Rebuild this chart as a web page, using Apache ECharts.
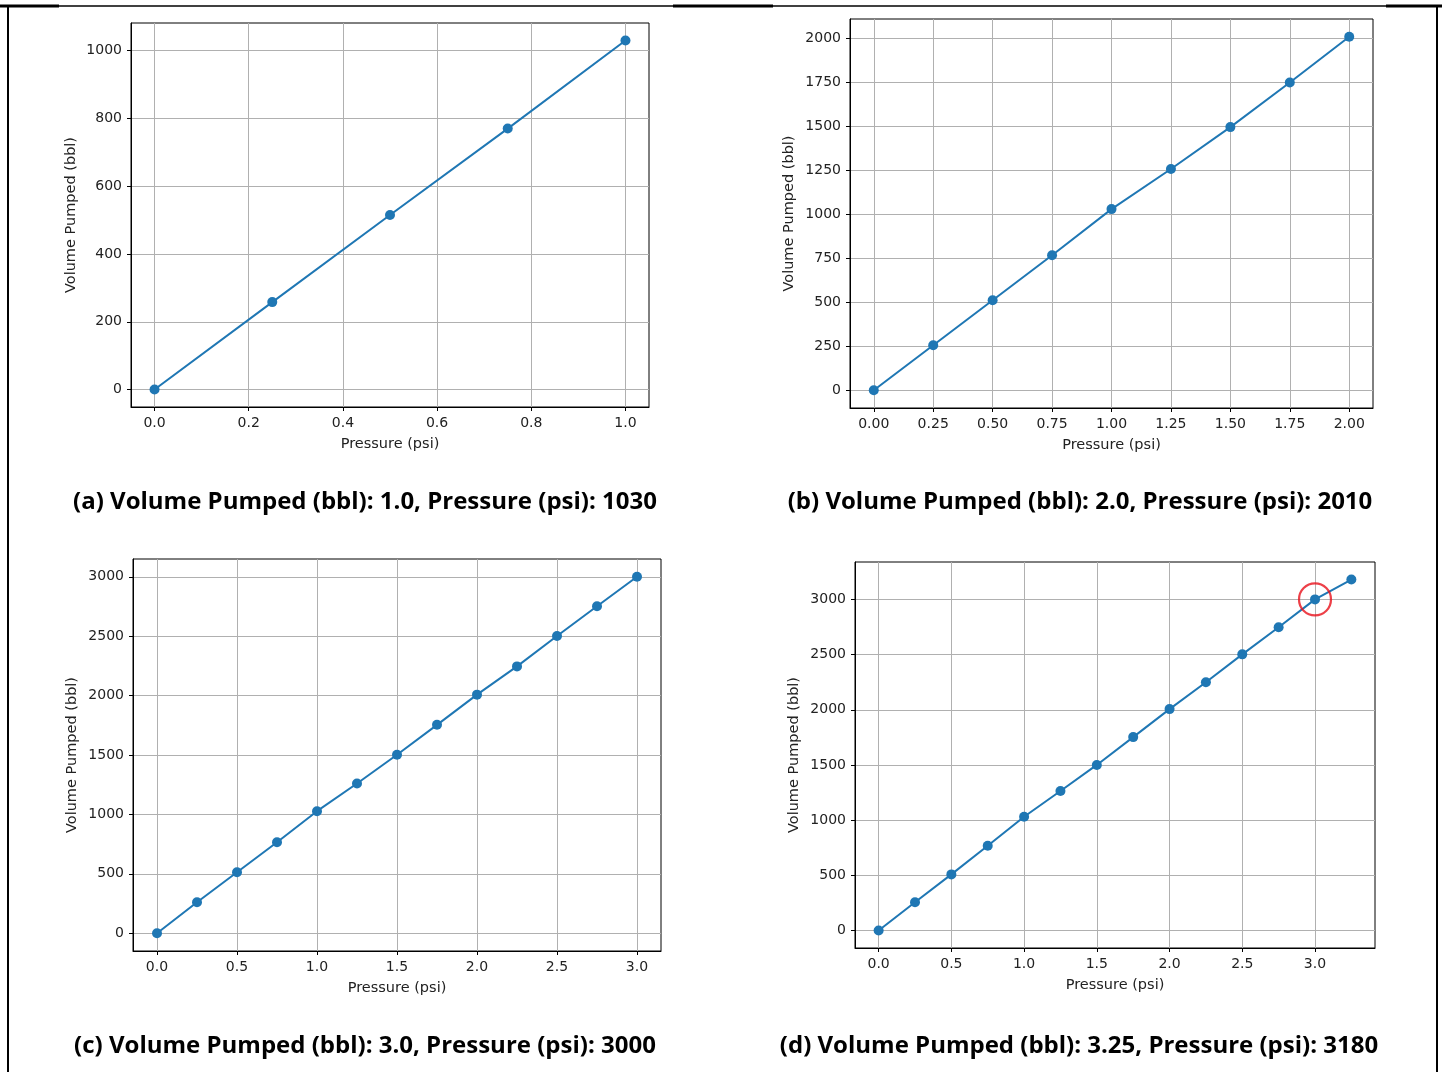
<!DOCTYPE html>
<html>
<head>
<meta charset="utf-8">
<script src="https://cdn.jsdelivr.net/npm/echarts@6/dist/echarts.min.js"></script>
<style>
html,body{margin:0;padding:0;background:#fff;}
#chart{width:1442px;height:1072px;}
</style>
</head>
<body>
<div id="chart"></div>
<script>
// ---- data ----
const pressureA = [0, 0.25, 0.5, 0.75, 1.0];
const volumeA = [0, 258, 515, 770, 1030];
const pressureB = [0, 0.25, 0.5, 0.75, 1.0, 1.25, 1.5, 1.75, 2.0];
const volumeB = [0, 256, 512, 768, 1030, 1258, 1496, 1750, 2010];
const pressureC = [0, 0.25, 0.5, 0.75, 1.0, 1.25, 1.5, 1.75, 2.0, 2.25, 2.5, 2.75, 3.0];
const volumeC = [0, 260, 513, 766, 1027, 1260, 1502, 1754, 2008, 2246, 2502, 2752, 3000];
const pressureD = [0, 0.25, 0.5, 0.75, 1.0, 1.25, 1.5, 1.75, 2.0, 2.25, 2.5, 2.75, 3.0, 3.25];
const volumeD = [0, 255, 508, 768, 1030, 1264, 1500, 1752, 2006, 2249, 2502, 2748, 3000, 3180];
const highlightD = [[3.0, 3000]];

const xTicksA = [0, 0.2, 0.4, 0.6, 0.8, 1.0];
const xTicksB = [0, 0.25, 0.5, 0.75, 1.0, 1.25, 1.5, 1.75, 2.0];
const xTicksC = [0, 0.5, 1.0, 1.5, 2.0, 2.5, 3.0];
const xTicksD = [0, 0.5, 1.0, 1.5, 2.0, 2.5, 3.0];
const yTicksA = [0, 200, 400, 600, 800, 1000];
const yTicksB = [0, 250, 500, 750, 1000, 1250, 1500, 1750, 2000];
const yTicksC = [0, 500, 1000, 1500, 2000, 2500, 3000];
const yTicksD = [0, 500, 1000, 1500, 2000, 2500, 3000];

const captions = [
  '(a) Volume Pumped (bbl): 1.0, Pressure (psi): 1030',
  '(b) Volume Pumped (bbl): 2.0, Pressure (psi): 2010',
  '(c) Volume Pumped (bbl): 3.0, Pressure (psi): 3000',
  '(d) Volume Pumped (bbl): 3.25, Pressure (psi): 3180'
];
const xName = 'Pressure (psi)';
const yName = 'Volume Pumped (bbl)';

// ---- layout ----
const panels = [
  {xs: pressureA, ys: volumeA, xt: xTicksA, yt: yTicksA, dec: 1, grid: {left: 131, top: 23, width: 518, height: 384}, capX: 365, capY: 502, yGap: 52, xGap: 30},
  {xs: pressureB, ys: volumeB, xt: xTicksB, yt: yTicksB, dec: 2, grid: {left: 850, top: 19, width: 523, height: 389}, capX: 1080, capY: 502, yGap: 53, xGap: 30},
  {xs: pressureC, ys: volumeC, xt: xTicksC, yt: yTicksC, dec: 1, grid: {left: 133, top: 559, width: 528, height: 392}, capX: 365, capY: 1046, yGap: 53, xGap: 30},
  {xs: pressureD, ys: volumeD, xt: xTicksD, yt: yTicksD, dec: 1, grid: {left: 855, top: 562, width: 520, height: 386}, capX: 1079, capY: 1046, yGap: 53, xGap: 30}
];

function pad(lo, hi) { const m = (hi - lo) * 0.05; return [lo - m, hi + m]; }

const FONT = 'DejaVu Sans';
const grids = [], xAxes = [], yAxes = [], series = [];
panels.forEach((p, i) => {
  grids.push(Object.assign({show: true, borderColor: '#000', borderWidth: 1, backgroundColor: 'transparent', containLabel: false}, p.grid));
  const xr = pad(Math.min(...p.xs), Math.max(...p.xs));
  const yr = pad(Math.min(...p.ys), Math.max(...p.ys));
  xAxes.push({
    type: 'value', gridIndex: i, min: xr[0], max: xr[1],
    name: xName, nameLocation: 'middle', nameGap: p.xGap,
    nameTextStyle: {fontFamily: FONT, fontSize: 14.5, color: '#222'},
    axisLine: {show: true, onZero: false, lineStyle: {color: '#000', width: 1}},
    axisTick: {show: true, length: 4, lineStyle: {color: '#000'}, customValues: p.xt},
    axisLabel: {customValues: p.xt, formatter: v => Number(v).toFixed(p.dec), fontFamily: FONT, fontSize: 14, color: '#222', margin: 9},
    splitLine: {show: true, lineStyle: {color: '#b0b0b0', width: 1}}
  });
  yAxes.push({
    type: 'value', gridIndex: i, min: yr[0], max: yr[1],
    name: yName, nameLocation: 'middle', nameGap: p.yGap,
    nameTextStyle: {fontFamily: FONT, fontSize: 14.5, color: '#222'},
    axisLine: {show: true, onZero: false, lineStyle: {color: '#000', width: 1}},
    axisTick: {show: true, length: 4, lineStyle: {color: '#000'}, customValues: p.yt},
    axisLabel: {customValues: p.yt, formatter: v => String(Math.round(v)), fontFamily: FONT, fontSize: 14, color: '#222', margin: 9},
    splitLine: {show: true, lineStyle: {color: '#b0b0b0', width: 1}}
  });
  series.push({
    type: 'line', xAxisIndex: i, yAxisIndex: i,
    data: p.xs.map((x, k) => [x, p.ys[k]]),
    symbol: 'circle', symbolSize: 10, showSymbol: true,
    lineStyle: {color: '#1f77b4', width: 2},
    itemStyle: {color: '#1f77b4'},
    animation: false, z: 5
  });
});
series.push({
  type: 'scatter', xAxisIndex: 3, yAxisIndex: 3,
  data: highlightD, symbol: 'circle', symbolSize: 32,
  itemStyle: {color: 'rgba(0,0,0,0)', borderColor: '#e8101a', borderWidth: 2.2},
  animation: false, z: 6, silent: true
});

const graphics = [];
panels.forEach((p, i) => {
  graphics.push({type: 'text', x: p.capX, y: p.capY,
    style: {text: captions[i], font: 'bold 24px "Open Sans"', fill: '#000', textAlign: 'center', textVerticalAlign: 'middle'}});
});
// frame lines
const frame = [
  [8, 6, 1437, 6, 1.5], [8, 6, 8, 1072, 2], [1437, 6, 1437, 1072, 2],
  [0, 6, 59, 6, 3], [673, 6, 773, 6, 3], [1386, 6, 1442, 6, 3]
];
frame.forEach(f => graphics.push({type: 'line', shape: {x1: f[0], y1: f[1], x2: f[2], y2: f[3]}, style: {stroke: '#000', lineWidth: f[4]}}));

const chart = echarts.init(document.getElementById('chart'), null, {renderer: 'canvas'});
chart.setOption({
  animation: false,
  backgroundColor: '#fff',
  grid: grids, xAxis: xAxes, yAxis: yAxes, series: series,
  graphic: graphics
});
</script>
</body>
</html>
